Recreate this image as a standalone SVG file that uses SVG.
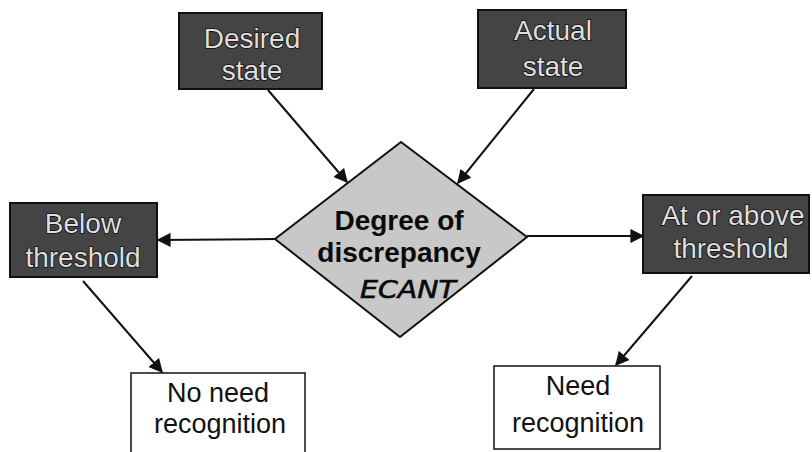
<svg xmlns="http://www.w3.org/2000/svg" width="812" height="452" viewBox="0 0 812 452">
  <style>
    .dark rect { fill: #444; stroke: #111; stroke-width: 2; }
    .dark text { font-family: "Liberation Sans", Arial, sans-serif; font-size: 28px; fill: #dedede; stroke: #111; stroke-width: 1.6px; paint-order: stroke; text-anchor: middle; }
    .light rect { fill: #fff; stroke: #111; stroke-width: 1.5; }
    .light text { font-family: "Liberation Sans", Arial, sans-serif; font-size: 27px; fill: #111; text-anchor: middle; }
    .decision polygon { fill: #c8c8c8; stroke: #111; stroke-width: 2; }
    .decision text { font-family: "Liberation Sans", Arial, sans-serif; font-size: 28px; font-weight: bold; fill: #0a0a0a; text-anchor: middle; }
    .decision .hand { font-family: "DejaVu Sans", sans-serif; font-weight: normal; font-style: italic; font-size: 24px; stroke: #0a0a0a; stroke-width: 0.6px; }
    .connectors line { stroke: #111; stroke-width: 2; marker-end: url(#arrow); }
  </style>
  <defs>
    <marker id="arrow" viewBox="0 0 10 10" refX="9" refY="5" markerWidth="7" markerHeight="7" orient="auto" markerUnits="strokeWidth">
      <path d="M0,0 L10,5 L0,10 z" fill="#111"/>
    </marker>
  </defs>

  <rect width="812" height="452" fill="#fff"/>

  <g id="desired-state" class="dark">
    <rect x="179" y="13" width="143" height="76"/>
    <text x="252" y="48">Desired</text>
    <text x="252" y="80">state</text>
  </g>

  <g id="actual-state" class="dark">
    <rect x="478" y="10" width="148" height="78"/>
    <text x="553" y="40">Actual</text>
    <text x="553" y="76">state</text>
  </g>

  <g id="degree-of-discrepancy" class="decision">
    <polygon points="401,142 527,237 400,337 275,239"/>
    <text x="399" y="230">Degree of</text>
    <text x="399" y="262">discrepancy</text>
    <text class="hand" x="408" y="298" textLength="96" lengthAdjust="spacingAndGlyphs">ECANT</text>
  </g>

  <g id="below-threshold" class="dark">
    <rect x="10" y="203" width="147" height="74"/>
    <text x="83" y="233">Below</text>
    <text x="83" y="267">threshold</text>
  </g>

  <g id="at-or-above-threshold" class="dark">
    <rect x="643" y="195" width="166" height="78"/>
    <text x="733" y="225">At or above</text>
    <text x="731" y="258">threshold</text>
  </g>

  <g id="no-need-recognition" class="light">
    <rect x="131" y="373" width="174" height="82"/>
    <text x="218" y="402">No need</text>
    <text x="220" y="433">recognition</text>
  </g>

  <g id="need-recognition" class="light">
    <rect x="494" y="366" width="166" height="83"/>
    <text x="578" y="395">Need</text>
    <text x="578" y="432">recognition</text>
  </g>

  <g id="connectors" class="connectors">
    <line x1="268" y1="90" x2="347" y2="182"/>
    <line x1="534" y1="89" x2="458" y2="183"/>
    <line x1="275" y1="239" x2="158" y2="240"/>
    <line x1="527" y1="236" x2="643" y2="236"/>
    <line x1="83" y1="281" x2="162" y2="372"/>
    <line x1="692" y1="276" x2="616" y2="365"/>
  </g>
</svg>
